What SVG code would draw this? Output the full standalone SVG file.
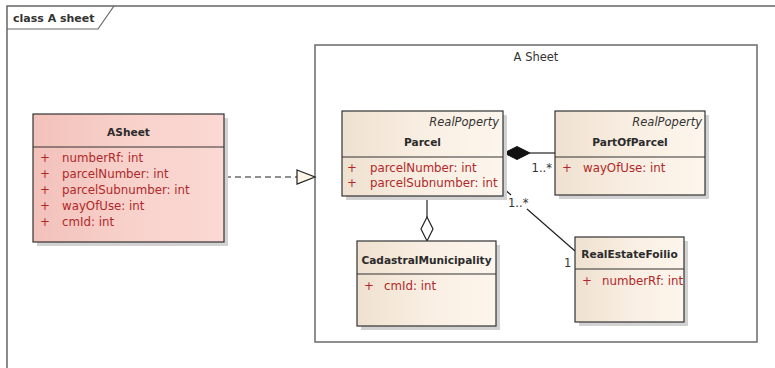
<svg xmlns="http://www.w3.org/2000/svg" width="775" height="368" viewBox="0 0 775 368">
<defs>
<linearGradient id="cream" x1="0" y1="0" x2="1" y2="0"><stop offset="0" stop-color="#efe1d0"/><stop offset="0.5" stop-color="#f9eee2"/><stop offset="1" stop-color="#fdf6ed"/></linearGradient>
<linearGradient id="pink" x1="0" y1="0" x2="1" y2="0"><stop offset="0" stop-color="#f2c1ba"/><stop offset="0.5" stop-color="#f8d1cb"/><stop offset="1" stop-color="#fbd8d3"/></linearGradient>
<clipPath id="clipRE"><rect x="575" y="237" width="109" height="85"/></clipPath>
<style>
.box{stroke:#333;stroke-width:1.2}
.sh{fill:#d2d2d2}
.div{stroke:#333;stroke-width:1.2}
.title{font-family:"DejaVu Sans",Verdana,sans-serif;font-size:10.6px;font-weight:bold;fill:#2b2b2b;text-anchor:middle}
.stereo{font-family:"DejaVu Sans",Verdana,sans-serif;font-size:11.5px;font-style:italic;fill:#333;text-anchor:end}
.attr{font-family:"DejaVu Sans",Verdana,sans-serif;font-size:11.8px;fill:#b0282a}
.lbl{font-family:"DejaVu Sans",Verdana,sans-serif;font-size:11.5px;fill:#333}
.conn{stroke:#222;stroke-width:1.2;fill:none}
</style>
</defs>
<rect width="775" height="368" fill="#ffffff"/>
<g id="frame">
<path d="M7,368 V6 H775" fill="none" stroke="#666" stroke-width="1.5"/>
<path d="M7,29 H98 L114,6" fill="none" stroke="#666" stroke-width="1.2"/>
<text x="13" y="22" font-family="DejaVu Sans,Verdana,sans-serif" font-size="11px" font-weight="bold" fill="#333">class A sheet</text>
</g>
<g id="pkg-ASheet">
<rect x="315" y="45" width="442" height="297" fill="#ffffff" stroke="#6a6a6a" stroke-width="1.5"/>
<text x="536" y="61" font-family="DejaVu Sans,Verdana,sans-serif" font-size="11.5px" fill="#333" text-anchor="middle">A Sheet</text>
</g>
<g id="connectors">
<line x1="225" y1="177" x2="297" y2="177" class="conn" stroke-dasharray="6,4"/>
<polygon points="297,170 315,177 297,184" fill="#fdf5e6" stroke="#222" stroke-width="1.2"/>
<line x1="530" y1="153" x2="555" y2="153" class="conn"/>
<polygon points="504,153 517,146.5 530,153 517,159.5" fill="#111" stroke="#111" stroke-width="1"/>
<text x="552" y="172" class="lbl" text-anchor="end">1..*</text>
<line x1="427" y1="196" x2="427" y2="217" class="conn"/>
<polygon points="427,217 433,229 427,241 421,229" fill="#ffffff" stroke="#222" stroke-width="1.2"/>
<path d="M503,188 L511,195 M527,209 L575,251" class="conn"/>
<text x="508" y="207" class="lbl">1..*</text>
<text x="564" y="267" class="lbl">1</text>
</g>
<g id="ASheet">
<rect x="37" y="118" width="191" height="128" class="sh"/>
<rect x="33" y="114" width="191" height="128" fill="url(#pink)" class="box"/>
<line x1="33" y1="147" x2="224" y2="147" class="div"/>
<text x="128.5" y="136" class="title">ASheet</text>
<text x="40" y="161.5" class="attr">+</text><text x="62" y="161.5" class="attr">numberRf: int</text>
<text x="40" y="177.5" class="attr">+</text><text x="62" y="177.5" class="attr">parcelNumber: int</text>
<text x="40" y="193.5" class="attr">+</text><text x="62" y="193.5" class="attr">parcelSubnumber: int</text>
<text x="40" y="209.5" class="attr">+</text><text x="62" y="209.5" class="attr">wayOfUse: int</text>
<text x="40" y="225.5" class="attr">+</text><text x="62" y="225.5" class="attr">cmId: int</text>
</g>
<g id="Parcel">
<rect x="346" y="115" width="161" height="85" class="sh"/>
<rect x="342" y="111" width="161" height="85" fill="url(#cream)" class="box"/>
<line x1="342" y1="157" x2="503" y2="157" class="div"/>
<text x="499" y="126" class="stereo">RealPoperty</text>
<text x="422.5" y="146" class="title">Parcel</text>
<text x="347" y="172" class="attr">+</text><text x="370" y="172" class="attr">parcelNumber: int</text>
<text x="347" y="187" class="attr">+</text><text x="370" y="187" class="attr">parcelSubnumber: int</text>
</g>
<g id="PartOfParcel">
<rect x="559" y="115" width="150" height="84" class="sh"/>
<rect x="555" y="111" width="150" height="84" fill="url(#cream)" class="box"/>
<line x1="555" y1="157" x2="705" y2="157" class="div"/>
<text x="702" y="126" class="stereo">RealPoperty</text>
<text x="630" y="146" class="title">PartOfParcel</text>
<text x="562" y="172" class="attr">+</text><text x="583" y="172" class="attr">wayOfUse: int</text>
</g>
<g id="CadastralMunicipality">
<rect x="361" y="245" width="139" height="85" class="sh"/>
<rect x="357" y="241" width="139" height="85" fill="url(#cream)" class="box"/>
<line x1="357" y1="274" x2="496" y2="274" class="div"/>
<text x="426.5" y="264" class="title">CadastralMunicipality</text>
<text x="364" y="290" class="attr">+</text><text x="384" y="290" class="attr">cmId: int</text>
</g>
<g id="RealEstateFoilio">
<rect x="579" y="241" width="109" height="85" class="sh"/>
<rect x="575" y="237" width="109" height="85" fill="url(#cream)" class="box"/>
<line x1="575" y1="269" x2="684" y2="269" class="div"/>
<text x="629.5" y="258" class="title">RealEstateFoilio</text>
<g clip-path="url(#clipRE)">
<text x="582" y="285" class="attr">+</text><text x="602" y="285" class="attr">numberRf: int</text>
</g>
</g>
</svg>
